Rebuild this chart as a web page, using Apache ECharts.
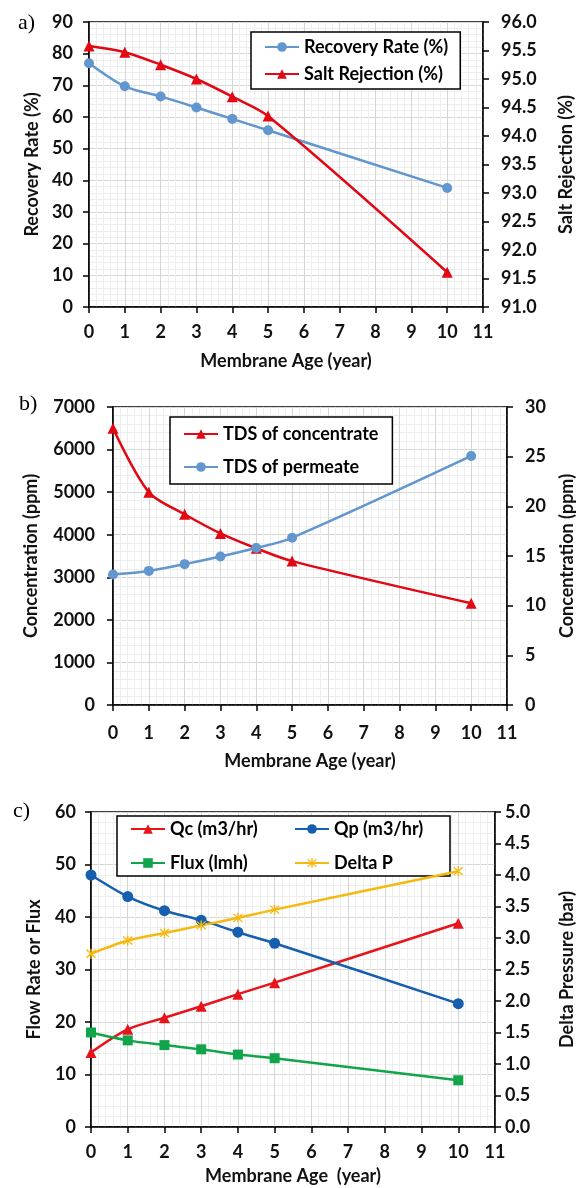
<!DOCTYPE html>
<html><head><meta charset="utf-8">
<script src="https://cdn.jsdelivr.net/npm/echarts@6/dist/echarts.min.js"></script>
<style>html,body{margin:0;padding:0;background:#fff}#c{width:584px;height:1188px}</style>
</head><body><div id="c"></div>
<script>
const years = [0, 1, 2, 3, 4, 5, 10];
// panel a
const recoveryRate = [77, 69.7, 66.5, 63, 59.4, 55.8, 37.6];
const saltRejection = [95.58, 95.47, 95.25, 95.0, 94.69, 94.35, 91.61];
// panel b
const tdsConcentrate = [6500, 5000, 4480, 4030, 3680, 3380, 2390];
const tdsPermeate = [13.14, 13.5, 14.18, 14.95, 15.8, 16.83, 25.07];
// panel c
const qc = [14.2, 18.6, 20.8, 23.0, 25.3, 27.5, 38.8];
const qp = [48.0, 43.9, 41.2, 39.4, 37.1, 35.0, 23.5];
const flux = [18.0, 16.5, 15.6, 14.8, 13.8, 13.1, 8.9];
const deltaP = [2.75, 2.96, 3.08, 3.2, 3.32, 3.45, 4.06];

const pair = arr => years.map((x, i) => [x, arr[i]]);
const FONT = 'Lato';
const FS = 18;
const TXT = '#111';
const star = 'path://M4.4 0h1.2v10h-1.2z M0.6 1.45L1.45 0.6L9.4 8.55L8.55 9.4z M8.55 0.6L9.4 1.45L1.45 9.4L0.6 8.55z';

const grids = [
  {left: 89, right: 101, top: 22, height: 285},
  {left: 113, right: 69, top: 407, height: 298},
  {left: 91, right: 83, top: 812, height: 315}
].map(g => Object.assign(g, {show: true, borderColor: '#000', borderWidth: 1.5, backgroundColor: '#fff'}));

function xAx(gi, gap, margin) {
  return {
    type: 'value', gridIndex: gi, min: 0, max: 11, interval: 1,
    name: gi === 2 ? 'Membrane Age  (year)' : 'Membrane Age (year)',
    nameLocation: 'middle', nameGap: gap,
    nameTextStyle: {fontFamily: FONT, fontWeight: 'bold', fontSize: FS, color: TXT},
    axisLine: {onZero: false, lineStyle: {color: '#000', width: 1.5}},
    axisTick: {show: true, length: 6, lineStyle: {color: '#000', width: 1.5}},
    axisLabel: {fontFamily: FONT, fontWeight: 'bold', fontSize: FS, color: TXT, margin: margin},
    splitLine: {show: true, lineStyle: {color: '#d6d6d6', width: 1}},
    minorTick: {show: false, splitNumber: 5},
    minorSplitLine: {show: true, lineStyle: {color: '#eeeeee', width: 1}}
  };
}
function yAx(gi, pos, min, max, interval, name, gap, margin, dec, grid) {
  return {
    type: 'value', gridIndex: gi, position: pos, min: min, max: max, interval: interval,
    name: name, nameLocation: 'middle', nameGap: gap, nameRotate: 90,
    nameTextStyle: {fontFamily: FONT, fontWeight: 'bold', fontSize: FS, color: TXT},
    axisLine: {show: true, onZero: false, lineStyle: {color: '#000', width: 1.5}},
    axisTick: {show: true, length: 6, lineStyle: {color: '#000', width: 1.5}},
    axisLabel: {fontFamily: FONT, fontWeight: 'bold', fontSize: FS, color: TXT, margin: margin,
      formatter: v => v.toFixed(dec)},
    splitLine: {show: grid, lineStyle: {color: '#d6d6d6', width: 1}},
    minorTick: {show: false, splitNumber: 5},
    minorSplitLine: {show: grid, lineStyle: {color: '#eeeeee', width: 1}}
  };
}

function ser(name, data, xi, yi, color, symbol, size) {
  return {
    name: name, type: 'line', xAxisIndex: xi, yAxisIndex: yi, data: pair(data),
    smooth: 0.3, symbol: symbol, symbolSize: size,
    lineStyle: {color: color, width: 2.5}, itemStyle: {color: color},
    emphasis: {disabled: true}, z: 5
  };
}

const legText = {fontFamily: FONT, fontWeight: 'bold', fontSize: FS, color: '#000', lineHeight: 20};
const legBase = {
  backgroundColor: '#fff', borderColor: '#000', borderWidth: 1.5,
  itemWidth: 34, itemHeight: 12, textStyle: legText, selectedMode: false
};

const option = {
  animation: false,
  backgroundColor: '#fff',
  grid: grids,
  xAxis: [xAx(0, 45, 16), xAx(1, 47, 19), xAx(2, 40, 16)],
  yAxis: [
    yAx(0, 'left', 0, 90, 10, 'Recovery Rate (%)', 48, 16, 0, true),
    yAx(0, 'right', 91, 96, 0.5, 'Salt Rejection (%)', 74, 18, 1, false),
    yAx(1, 'left', 0, 7000, 1000, 'Concentration (ppm)', 73, 18, 0, true),
    yAx(1, 'right', 0, 30, 5, 'Concentration (ppm)', 51, 18, 0, false),
    yAx(2, 'left', 0, 60, 10, 'Flow Rate or Flux', 48, 15, 0, true),
    yAx(2, 'right', 0, 5, 0.5, 'Delta Pressure (bar)', 63, 10, 1, false)
  ],
  legend: [
    Object.assign({}, legBase, {orient: 'vertical', left: 251, top: 32, itemGap: 7,
      padding: [5, 12, 5, 13], data: ['Recovery Rate (%)', 'Salt Rejection (%)']}),
    Object.assign({}, legBase, {orient: 'vertical', left: 170, top: 417, itemGap: 13,
      padding: [7, 14, 7, 13], data: ['TDS of concentrate', 'TDS of permeate']}),
    Object.assign({}, legBase, {orient: 'horizontal', left: 117, top: 816, itemGap: 14, width: 330,
      padding: [3, 6, 3, 13], textStyle: Object.assign({}, legText, {width: 110}),
      data: ['Qc (m3/hr)', 'Qp (m3/hr)', 'Flux (lmh)', 'Delta P']})
  ],
  graphic: [
    {type: 'text', left: 18, top: 12, style: {text: 'a)', font: '22px "Liberation Serif"', fill: '#000'}},
    {type: 'text', left: 19, top: 393, style: {text: 'b)', font: '22px "Liberation Serif"', fill: '#000'}},
    {type: 'text', left: 13, top: 800, style: {text: 'c)', font: '22px "Liberation Serif"', fill: '#000'}}
  ],
  series: [
    ser('Recovery Rate (%)', recoveryRate, 0, 0, '#6196cf', 'circle', 10),
    ser('Salt Rejection (%)', saltRejection, 0, 1, '#e30613', 'triangle', 11),
    ser('TDS of concentrate', tdsConcentrate, 1, 2, '#e30613', 'triangle', 11),
    ser('TDS of permeate', tdsPermeate, 1, 3, '#6196cf', 'circle', 10),
    ser('Qc (m3/hr)', qc, 2, 4, '#e8141b', 'triangle', 11),
    ser('Qp (m3/hr)', qp, 2, 4, '#155fae', 'circle', 11),
    ser('Flux (lmh)', flux, 2, 4, '#10a54a', 'rect', 10),
    ser('Delta P', deltaP, 2, 5, '#f5b90f', star, 10)
  ]
};
echarts.init(document.getElementById('c'), null, {renderer: 'canvas'}).setOption(option);
</script></body></html>
